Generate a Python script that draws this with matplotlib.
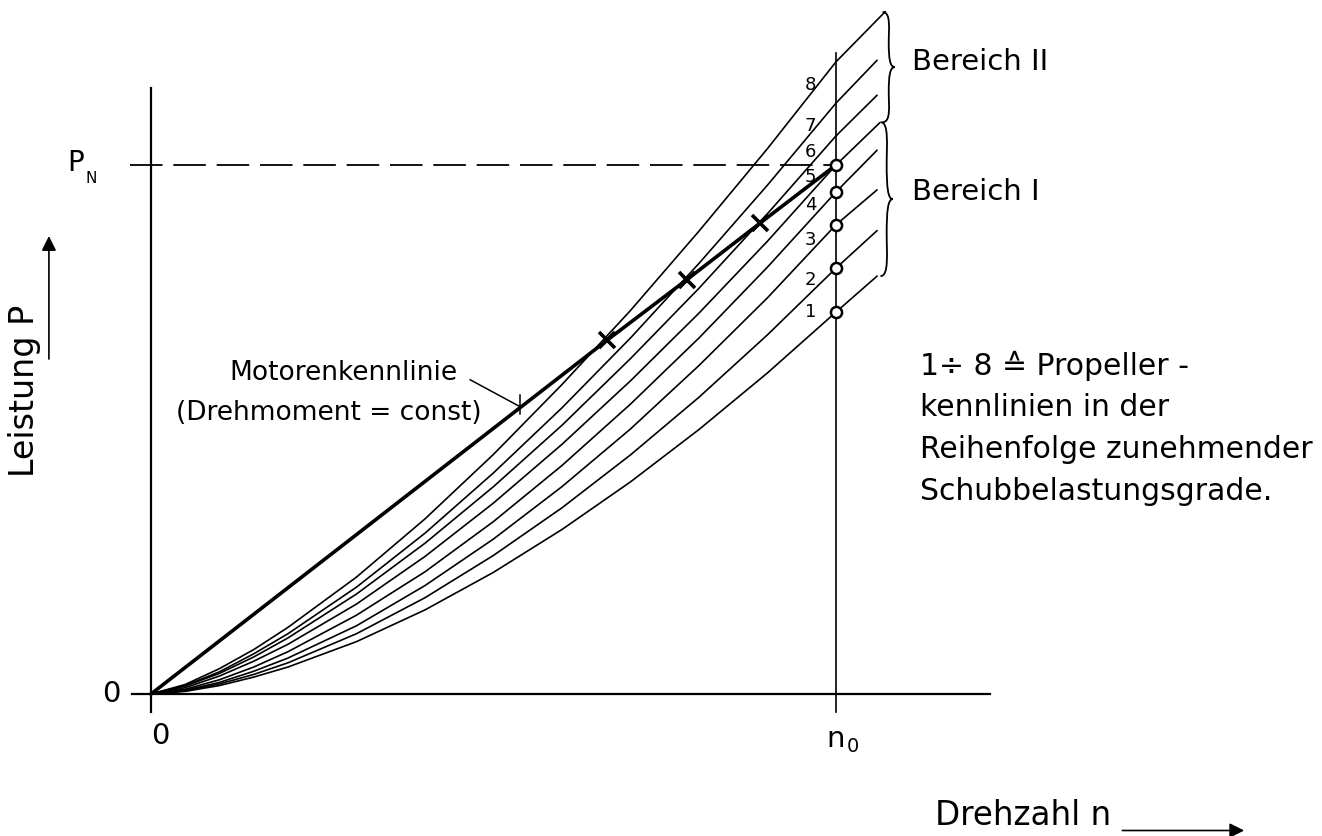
import numpy as np
import matplotlib.pyplot as plt
from matplotlib.path import Path
from matplotlib.patches import PathPatch

# normalised speed n/n0 and power P/PN
n_grid = [0.0, 0.05, 0.1, 0.15, 0.2, 0.3, 0.4, 0.5, 0.6, 0.7, 0.8, 0.9, 1.0]
prop_1 = [0.0, 0.005, 0.016, 0.032, 0.051, 0.099, 0.159, 0.230, 0.311, 0.401, 0.500, 0.607, 0.722]
prop_2 = [0.0, 0.006, 0.019, 0.037, 0.059, 0.114, 0.182, 0.262, 0.352, 0.452, 0.561, 0.679, 0.805]
prop_3 = [0.0, 0.007, 0.022, 0.043, 0.068, 0.129, 0.205, 0.293, 0.392, 0.501, 0.621, 0.749, 0.887]
prop_4 = [0.0, 0.009, 0.027, 0.051, 0.080, 0.149, 0.231, 0.326, 0.432, 0.548, 0.673, 0.807, 0.949]
prop_5 = [0.0, 0.012, 0.034, 0.062, 0.094, 0.170, 0.260, 0.361, 0.472, 0.592, 0.720, 0.856, 1.000]
prop_6 = [0.0, 0.015, 0.039, 0.070, 0.106, 0.189, 0.285, 0.392, 0.508, 0.634, 0.767, 0.908, 1.055]
prop_7 = [0.0, 0.016, 0.042, 0.076, 0.114, 0.202, 0.304, 0.418, 0.541, 0.673, 0.814, 0.962, 1.117]
prop_8 = [0.0, 0.018, 0.048, 0.084, 0.126, 0.221, 0.331, 0.453, 0.585, 0.725, 0.875, 1.031, 1.195]
# where each curve stops to the right of n0
n_end = [1.06, 1.06, 1.06, 1.06, 1.064, 1.06, 1.06, 1.072]
p_end = [0.790, 0.876, 0.953, 1.028, 1.080, 1.132, 1.198, 1.290]
curve_labels = ["1", "2", "3", "4", "5", "6", "7", "8"]

# engine line (torque = const) with the operating points
engine_n = [0.0, 0.666, 0.782, 0.889, 1.0]
engine_p = [0.0, 0.669, 0.783, 0.890, 1.0]
cross_n = [0.666, 0.782, 0.889]
cross_p = [0.669, 0.783, 0.890]
circle_p = [0.722, 0.805, 0.887, 0.949, 1.0]

LW_THIN = 1.2
LW_AXIS = 1.6


def brace(ax, x0, y_top, y_bot, depth, lw=1.3):
    """Curly brace opening to the left, tip pointing right."""
    ym = 0.5 * (y_top + y_bot)
    h = 0.5 * (y_top - y_bot)
    d = depth
    verts = [
        (x0, y_top),
        (x0 + 0.7 * d, y_top), (x0 + 0.5 * d, y_top - 0.3 * h), (x0 + 0.5 * d, y_top - 0.55 * h),
        (x0 + 0.5 * d, y_top - 0.85 * h), (x0 + 0.6 * d, ym), (x0 + d, ym),
        (x0 + 0.6 * d, ym), (x0 + 0.5 * d, y_bot + 0.85 * h), (x0 + 0.5 * d, y_bot + 0.55 * h),
        (x0 + 0.5 * d, y_bot + 0.3 * h), (x0 + 0.7 * d, y_bot), (x0, y_bot),
    ]
    codes = [Path.MOVETO] + [Path.CURVE4] * 12
    ax.add_patch(PathPatch(Path(verts, codes), fill=False, lw=lw, color="black"))


fig = plt.figure(figsize=(13.22, 8.36), dpi=100)
ax = fig.add_axes([0, 0, 1, 1])
ax.set_xlim(-0.2204, 1.7095)
ax.set_ylim(-0.2684, 1.3119)
ax.axis("off")

# axes of the sketch
ax.plot([-0.028, 1.225], [0, 0], color="black", lw=LW_AXIS)
ax.plot([0, 0], [-0.034, 1.146], color="black", lw=LW_AXIS)
ax.plot([1.0, 1.0], [-0.034, 1.212], color="black", lw=LW_THIN)
ax.plot([-0.03, 1.0], [1.0, 1.0], color="black", lw=1.3, linestyle=(0, (18, 6)))

curves = [prop_1, prop_2, prop_3, prop_4, prop_5, prop_6, prop_7, prop_8]
for i, vals in enumerate(curves):
    xs = n_grid + [n_end[i]]
    ys = vals + [p_end[i]]
    ax.plot(xs, ys, color="black", lw=LW_THIN, solid_capstyle="round",
            solid_joinstyle="round")

ax.plot(engine_n, engine_p, color="black", lw=2.6, solid_joinstyle="round")
ax.plot(cross_n, cross_p, linestyle="none", marker="x", ms=11, mew=2.6, color="black")
ax.plot([1.0] * len(circle_p), circle_p, linestyle="none", marker="o", ms=8,
        mfc="white", mec="black", mew=1.8)

# curve numbers left of n0
label_p = [0.722, 0.783, 0.858, 0.925, 0.977, 1.024, 1.074, 1.151]
for lab, yp in zip(curve_labels, label_p):
    ax.text(0.963, yp, lab, fontsize=13, ha="center", va="center")

# braces for the two ranges
brace(ax, 1.068, 1.289, 1.081, 0.018)
brace(ax, 1.065, 1.081, 0.790, 0.018)
ax.text(1.111, 1.195, "Bereich II", fontsize=21, va="center")
ax.text(1.111, 0.949, "Bereich I", fontsize=21, va="center")

# engine characteristic label with leader
ax.text(0.447, 0.607, "Motorenkennlinie", fontsize=19, ha="right", va="center")
ax.text(0.483, 0.531, "(Drehmoment = const)", fontsize=19, ha="right", va="center")
ax.plot([0.466, 0.539], [0.594, 0.543], color="black", lw=1.1)
ax.plot([0.539, 0.539], [0.565, 0.530], color="black", lw=1.1)

# explanation on the right
notes = ["1÷ 8 ≙ Propeller -", "kennlinien in der",
         "Reihenfolge zunehmender", "Schubbelastungsgrade."]
for k, line in enumerate(notes):
    ax.text(1.122, 0.620 - 0.079 * k, line, fontsize=21.5, va="center")

# axis annotations
ax.text(-0.045, 0.0, "0", fontsize=21, ha="right", va="center")
ax.text(0.013, -0.08, "0", fontsize=21, ha="center", va="center")
ax.text(1.0, -0.085, "n", fontsize=21, ha="center", va="center")
ax.text(1.024, -0.1, "0", fontsize=14, ha="center", va="center")
ax.text(-0.1095, 1.004, "P", fontsize=20, ha="center", va="center")
ax.text(-0.0876, 0.975, "N", fontsize=11, ha="center", va="center")

ax.text(-0.185, 0.573, "Leistung P", fontsize=24, rotation=90, ha="center", va="center")
ax.annotate("", xy=(-0.149, 0.871), xytext=(-0.149, 0.628),
            arrowprops=dict(arrowstyle="-|>", color="black", lw=1.2, mutation_scale=22))

ax.text(1.145, -0.229, "Drehzahl n", fontsize=23.5, va="center")
ax.annotate("", xy=(1.6, -0.258), xytext=(1.414, -0.258),
            arrowprops=dict(arrowstyle="-|>", color="black", lw=1.2, mutation_scale=22))

fig.savefig("out.png", dpi=100)
